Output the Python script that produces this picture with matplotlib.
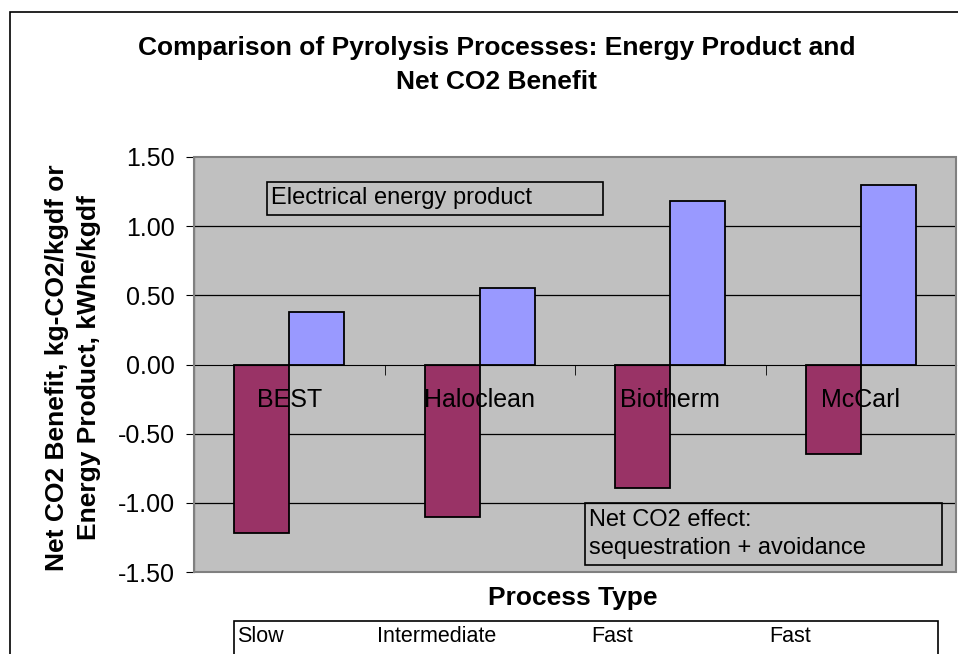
import matplotlib.pyplot as plt
import numpy as np
from matplotlib.patches import Rectangle

plt.rcParams['font.family'] = ['Liberation Sans', 'DejaVu Sans']

# values
processes = ['BEST', 'Haloclean', 'Biotherm', 'McCarl']
process_types = ['Slow', 'Intermediate', 'Fast', 'Fast']
net_co2 = [-1.22, -1.10, -0.89, -0.65]
energy_product = [0.38, 0.55, 1.18, 1.30]
yticks = [-1.5, -1.0, -0.5, 0.0, 0.5, 1.0, 1.5]

W, H = 958, 654
fig = plt.figure(figsize=(W / 100, H / 100), dpi=100)


def fx(px):
    return px / W


def fy(py):
    return 1 - py / H


def fig_box(x0, y0, x1, y1, face='none'):
    fig.add_artist(Rectangle((fx(x0), fy(y1)), fx(x1) - fx(x0), fy(y0) - fy(y1),
                             transform=fig.transFigure, facecolor=face,
                             edgecolor='black', linewidth=1.2))


# outer chart border
fig_box(10, 12, 1000, 700)

ax = fig.add_axes([fx(194), fy(572), (956 - 194) / W, (572 - 157) / H])
ax.set_facecolor('#C0C0C0')

x = np.arange(len(processes))
bw = 0.29
ax.bar(x - bw / 2, net_co2, bw, color='#993366', edgecolor='black', linewidth=1.3, zorder=2)
ax.bar(x + bw / 2, energy_product, bw, color='#9999FF', edgecolor='black', linewidth=1.3, zorder=2)

ax.set_xlim(-0.5, len(processes) - 0.5)
ax.set_ylim(-1.5, 1.5)
ax.set_yticks(yticks)
ax.set_yticklabels([f'{v:.2f}' for v in yticks])
for v in yticks[1:-1]:
    if v != 0:
        ax.axhline(v, color='black', linewidth=0.9, zorder=1)

ax.spines['bottom'].set_position(('data', 0))
ax.spines['bottom'].set_zorder(4)
ax.spines['top'].set_visible(False)
ax.spines['right'].set_visible(False)
ax.spines['left'].set_color('black')
ax.add_patch(Rectangle((0, 0), 1, 1, transform=ax.transAxes, fill=False,
                       edgecolor='#808080', linewidth=1.5, zorder=5, clip_on=False))

ax.set_xticks(x)
ax.set_xticklabels(processes)
ax.set_xticks(x[:-1] + 0.5, minor=True)
ax.tick_params(axis='x', which='major', length=0, pad=17, labelsize=18)
ax.tick_params(axis='x', which='minor', length=7, direction='out')
ax.tick_params(axis='y', length=6, labelsize=18, pad=8)
ax.xaxis.set_zorder(3)

# annotation boxes
fig_box(267, 182, 603, 215)
fig.text(fx(271), fy(198.5), 'Electrical energy product', fontsize=17, va='center')
fig_box(585, 503, 942, 565)
fig.text(fx(589), fy(534), 'Net CO2 effect:\nsequestration + avoidance', fontsize=17,
         va='center', linespacing=1.4)

fig.text(fx(497), fy(65), 'Comparison of Pyrolysis Processes: Energy Product and\nNet CO2 Benefit',
         fontsize=19, fontweight='bold', ha='center', va='center', linespacing=1.5)
fig.text(fx(73), fy(368), 'Net CO2 Benefit, kg-CO2/kgdf or\nEnergy Product, kWhe/kgdf',
         fontsize=19, fontweight='bold', ha='center', va='center', rotation=90,
         linespacing=1.4)
fig.text(fx(573), fy(598), 'Process Type', fontsize=19, fontweight='bold',
         ha='center', va='center')

# process type table under the axis title
fig_box(234, 621, 938, 700, face='white')
for px, label in zip([237, 377, 591, 769], process_types):
    fig.text(fx(px), fy(636), label, fontsize=15.5, va='center')

fig.savefig('out.png', dpi=100)
